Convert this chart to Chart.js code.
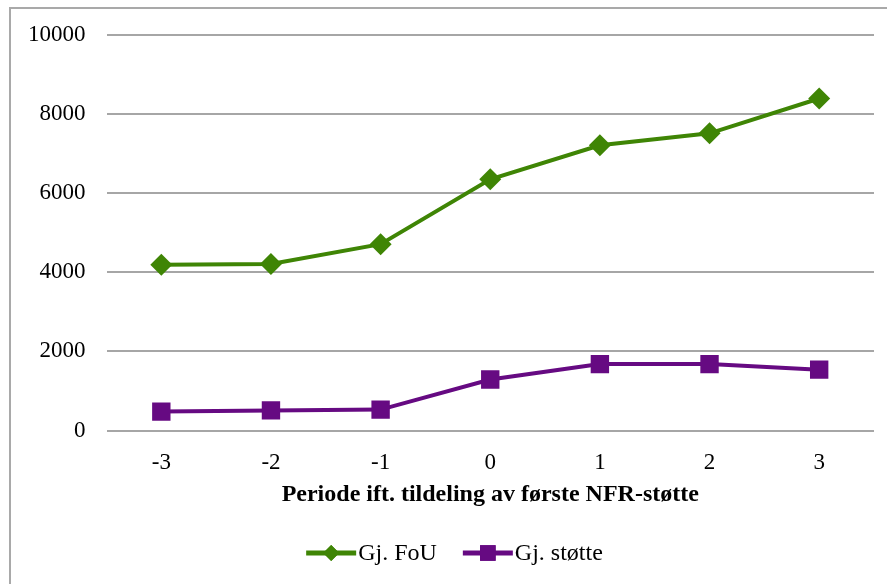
<!DOCTYPE html>
<html>
<head>
<meta charset="utf-8">
<script src="https://cdn.jsdelivr.net/npm/chart.js@4.4.1/dist/chart.umd.min.js"></script>
<style>
  html, body { margin: 0; padding: 0; background: #fff; }
  #frame {
    position: absolute; left: 9px; top: 7px; width: 900px; height: 600px;
    border-left: 2px solid #a9a9a9; border-top: 2px solid #a9a9a9;
  }
  #wrap { position: absolute; left: 0; top: 0; width: 887px; height: 584px; }
</style>
</head>
<body>
<div id="frame"></div>
<div id="wrap"><canvas id="chart" width="887" height="584"></canvas></div>
<script>
// periods relative to first NFR grant
const periods = ['-3', '-2', '-1', '0', '1', '2', '3'];
const fouValues = [4190, 4210, 4710, 6350, 7210, 7510, 8390];
const stotteValues = [480, 510, 530, 1290, 1680, 1680, 1540];
const yTicks = [0, 2000, 4000, 6000, 8000, 10000];

const serif = "'Liberation Serif', 'Times New Roman', serif";

// legend with line + marker, like the office-style legend
const lineLegend = {
  id: 'lineLegend',
  afterDraw(chart) {
    const ctx = chart.ctx;
    const sets = chart.data.datasets;
    ctx.save();
    ctx.font = '24px ' + serif;
    ctx.textBaseline = 'middle';
    const lineLen = 50, gap = 26;
    let total = 0;
    sets.forEach((d, i) => {
      total += lineLen + 2 + ctx.measureText(d.label).width + (i < sets.length - 1 ? gap : 0);
    });
    let x = chart.width / 2 + 11 - total / 2;
    const y = chart.height - 31;
    sets.forEach(d => {
      ctx.strokeStyle = d.borderColor;
      ctx.lineWidth = 5;
      ctx.beginPath();
      ctx.moveTo(x, y);
      ctx.lineTo(x + lineLen, y);
      ctx.stroke();
      ctx.fillStyle = d.borderColor;
      Chart.helpers.drawPoint(ctx, { pointStyle: d.pointStyle, radius: d.legendRadius, rotation: 0, borderWidth: 0 }, x + lineLen / 2, y);
      ctx.fill();
      ctx.fillStyle = '#000';
      ctx.textAlign = 'left';
      ctx.fillText(d.label, x + lineLen + 2, y + 1);
      x += lineLen + 2 + ctx.measureText(d.label).width + gap;
    });
    ctx.restore();
  }
};

new Chart(document.getElementById('chart'), {
  type: 'line',
  data: {
    labels: periods,
    datasets: [{
      label: 'Gj. FoU',
      data: fouValues,
      borderColor: '#3f8505',
      backgroundColor: '#3f8505',
      borderWidth: 4,
      pointStyle: 'rectRot',
      pointRadius: 11,
      legendRadius: 8,
      pointBorderWidth: 0,
      tension: 0,
    }, {
      label: 'Gj. støtte',
      data: stotteValues,
      borderColor: '#660a82',
      backgroundColor: '#660a82',
      borderWidth: 4,
      pointStyle: 'rect',
      pointRadius: 13,
      legendRadius: 11,
      pointBorderWidth: 0,
      tension: 0,
    }]
  },
  options: {
    responsive: false,
    animation: false,
    layout: { padding: { left: 7, right: 12, top: 29, bottom: 72 } },
    plugins: { legend: { display: false }, tooltip: { enabled: false } },
    scales: {
      x: {
        offset: true,
        grid: { display: false, drawTicks: false },
        border: { display: false },
        ticks: { color: '#000', font: { family: serif, size: 23 }, padding: 19 },
        title: {
          display: true,
          text: 'Periode ift. tildeling av første NFR-støtte',
          color: '#000',
          font: { family: serif, size: 24, weight: 'bold' },
          padding: { top: -16, bottom: 3 }
        }
      },
      y: {
        min: 0,
        max: 10000,
        afterBuildTicks: axis => { axis.ticks = yTicks.map(v => ({ value: v })); },
        grid: { color: '#a6a6a6', lineWidth: 2, drawTicks: false },
        border: { display: false },
        ticks: {
          color: '#000',
          font: { family: serif, size: 23 },
          padding: 21,
          callback: v => String(v)
        }
      }
    }
  },
  plugins: [lineLegend]
});
</script>
</body>
</html>
